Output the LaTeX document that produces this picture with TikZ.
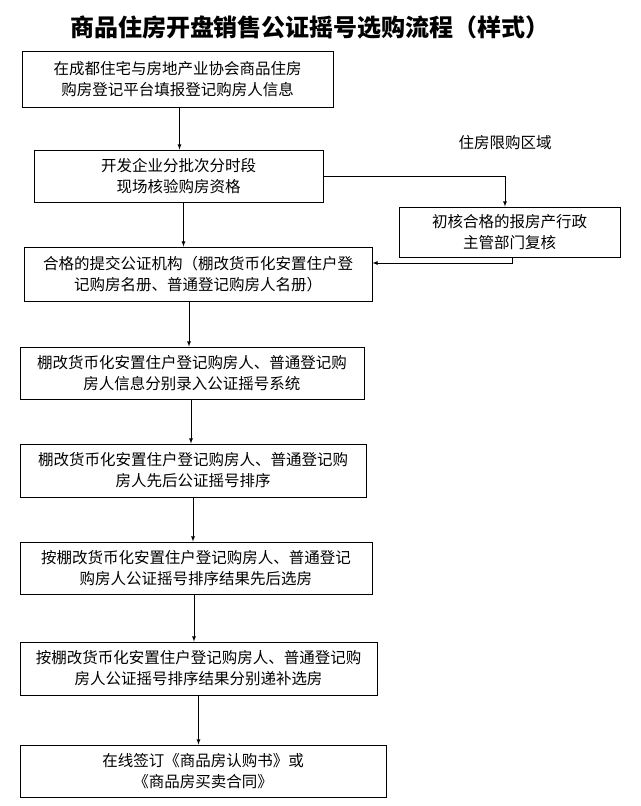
\documentclass[tikz,border=0pt]{standalone}
\usepackage{fontspec}
\newfontfamily\cjk{Noto Sans CJK SC}
\usetikzlibrary{positioning}
\tikzset{
  stepbox/.style={draw, line width=0.9pt, align=center, font=\cjk\fontsize{15.5}{21}\selectfont, inner sep=0pt},
  flow/.style={-latex, line width=0.8pt}
}
\begin{document}
\begin{tikzpicture}[x=1pt, y=-1pt]
  \useasboundingbox (0,0) rectangle (640,806);
  \node[font=\cjk\bfseries\fontsize{24}{28}\selectfont] (title) at (310,27) {商品住房开盘销售公证摇号选购流程（样式）};
  \node[stepbox, minimum width=311, minimum height=56] (s1) at (177.5,79) {在成都住宅与房地产业协会商品住房\\购房登记平台填报登记购房人信息};
  \node[stepbox, minimum width=289, minimum height=52] (s2) at (178.5,176) {开发企业分批次分时段\\现场核验购房资格};
  \node[stepbox, minimum width=221, minimum height=50] (r1) at (509.5,232) {初核合格的报房产行政\\主管部门复核};
  \node[font=\cjk\fontsize{15.5}{18}\selectfont] (area) at (505,143) {住房限购区域};
  \node[stepbox, minimum width=348, minimum height=54] (s3) at (198,274) {合格的提交公证机构（棚改货币化安置住户登\\记购房名册、普通登记购房人名册）};
  \node[stepbox, minimum width=344, minimum height=52] (s4) at (192,373) {棚改货币化安置住户登记购房人、普通登记购\\房人信息分别录入公证摇号系统};
  \node[stepbox, minimum width=346, minimum height=53] (s5) at (193,470.5) {棚改货币化安置住户登记购房人、普通登记购\\房人先后公证摇号排序};
  \node[stepbox, minimum width=352, minimum height=52] (s6) at (196,568) {按棚改货币化安置住户登记购房人、普通登记\\购房人公证摇号排序结果先后选房};
  \node[stepbox, minimum width=357, minimum height=53] (s7) at (198.5,668.5) {按棚改货币化安置住户登记购房人、普通登记购\\房人公证摇号排序结果分别递补选房};
  \node[stepbox, minimum width=366, minimum height=52] (s8) at (203,771) {在线签订《商品房认购书》或\\《商品房买卖合同》};
  % main line
  \draw[flow] ([xshift=2pt]s1.south) -- ([xshift=2pt]s1.south |- s2.north);
  \draw[flow] ([xshift=5pt]s2.south) -- ([xshift=5pt]s2.south |- s3.north);
  \draw[flow] ([xshift=-9pt]s3.south) -- ([xshift=-9pt]s3.south |- s4.north);
  \draw[flow] ([xshift=-1pt]s4.south) -- ([xshift=-1pt]s4.south |- s5.north);
  \draw[flow] ([xshift=0pt]s5.south) -- ([xshift=0pt]s5.south |- s6.north);
  \draw[flow] ([xshift=-2pt]s6.south) -- ([xshift=-2pt]s6.south |- s7.north);
  \draw[flow] ([xshift=0pt]s7.south) -- ([xshift=0pt]s7.south |- s8.north);
  % restricted area branch
  \draw[flow] (s2.east) -| ([xshift=-4.5pt]r1.north);
  \draw[flow] ([xshift=2.5pt]r1.south) |- ([yshift=11pt]s3.east);
\end{tikzpicture}
\end{document}
